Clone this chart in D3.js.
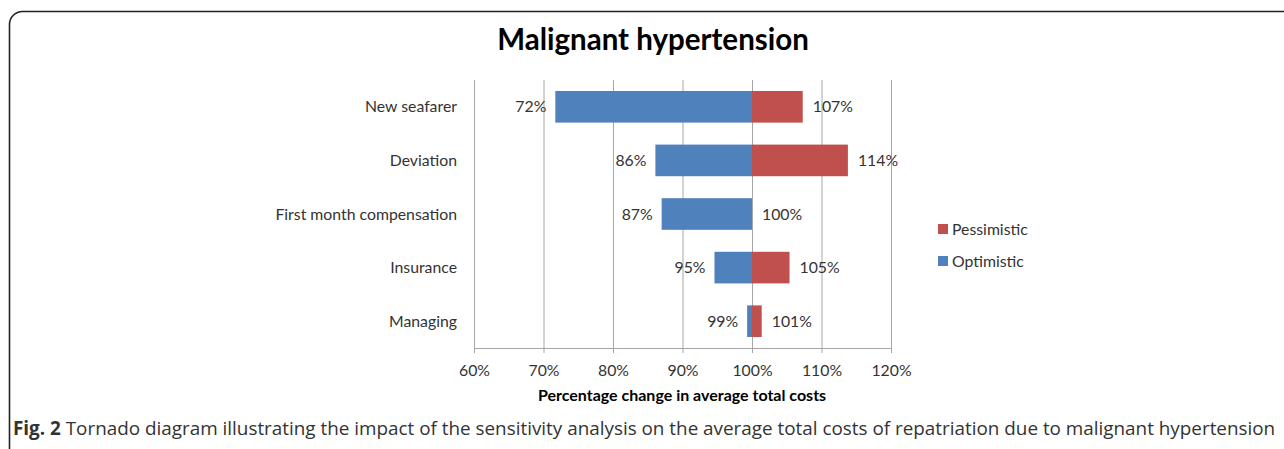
<!DOCTYPE html>
<html>
<head>
<meta charset="utf-8">
<script src="https://cdn.jsdelivr.net/npm/d3@7"></script>
<style>
  body { margin: 0; background: #fff; }
  svg { display: block; }
  .chart-labels text { font-family: Lato, sans-serif; font-size: 15.8px; fill: #333; }
</style>
</head>
<body>
<div id="tornado-chart"></div>
<script>
// Chart data
const categories = ["New seafarer", "Deviation", "First month compensation", "Insurance", "Managing"];
const optimistic = [71.7, 86.1, 87.0, 94.6, 99.3];
const pessimistic = [107.3, 113.8, 100.0, 105.4, 101.4];
const tickValues = [60, 70, 80, 90, 100, 110, 120];
const seriesNames = ["Pessimistic", "Optimistic"];
const baseline = 100;

(function () {
    const width = 1284;
    const height = 449;

    // Plot area (in page pixels)
    const plot = { left: 474, right: 891, top: 80, bottom: 348 };

    const colors = { Pessimistic: "#c0504d", Optimistic: "#4f81bd" };

    const svg = d3.select("#tornado-chart")
        .append("svg")
        .attr("width", width)
        .attr("height", height);

    // Rounded figure frame
    svg.append("rect")
        .attr("x", 9.5)
        .attr("y", 11.5)
        .attr("width", 1320)
        .attr("height", 450)
        .attr("rx", 13)
        .attr("fill", "none")
        .attr("stroke", "#222")
        .attr("stroke-width", 1.6);

    // Title
    svg.append("text")
        .attr("x", 653)
        .attr("y", 50)
        .attr("text-anchor", "middle")
        .style("font-family", "Lato, sans-serif")
        .style("font-weight", "bold")
        .style("font-size", "29.5px")
        .style("fill", "#000")
        .text("Malignant hypertension");

    // Scales
    const xScale = d3.scaleLinear().domain([60, 120]).range([plot.left, plot.right]);
    const yScale = d3.scaleBand()
        .domain(categories)
        .range([plot.top, plot.bottom])
        .paddingInner(0.41)
        .paddingOuter(0.205);

    // Vertical gridlines
    svg.append("g")
        .attr("transform", `translate(0, ${plot.bottom})`)
        .call(d3.axisBottom(xScale)
            .tickValues(tickValues)
            .tickSize(-(plot.bottom - plot.top))
            .tickFormat(""))
        .call((g) => g.select(".domain").remove())
        .call((g) => g.selectAll("line").attr("stroke", "#a6a6a6"));

    // Bars
    const rows = categories.map((c, i) => ({ cat: c, opt: optimistic[i], pes: pessimistic[i] }));

    svg.append("g")
        .selectAll("rect")
        .data(rows)
        .join("rect")
        .attr("x", (d) => xScale(d.opt))
        .attr("y", (d) => yScale(d.cat))
        .attr("width", (d) => xScale(baseline) - xScale(d.opt))
        .attr("height", yScale.bandwidth())
        .attr("fill", colors.Optimistic);

    svg.append("g")
        .selectAll("rect")
        .data(rows)
        .join("rect")
        .attr("x", xScale(baseline))
        .attr("y", (d) => yScale(d.cat))
        .attr("width", (d) => xScale(d.pes) - xScale(baseline))
        .attr("height", yScale.bandwidth())
        .attr("fill", colors.Pessimistic);

    // Data labels
    const fmt = (v) => d3.format(".0f")(v) + "%";
    const labels = svg.append("g").attr("class", "chart-labels");

    labels.selectAll("text.opt")
        .data(rows)
        .join("text")
        .attr("class", "opt")
        .attr("x", (d) => xScale(d.opt) - 9)
        .attr("y", (d) => yScale(d.cat) + yScale.bandwidth() / 2)
        .attr("dy", "0.35em")
        .attr("text-anchor", "end")
        .text((d) => fmt(d.opt));

    labels.selectAll("text.pes")
        .data(rows)
        .join("text")
        .attr("class", "pes")
        .attr("x", (d) => xScale(d.pes) + 10)
        .attr("y", (d) => yScale(d.cat) + yScale.bandwidth() / 2)
        .attr("dy", "0.35em")
        .attr("text-anchor", "start")
        .text((d) => fmt(d.pes));

    // Category labels
    labels.selectAll("text.cat")
        .data(categories)
        .join("text")
        .attr("class", "cat")
        .attr("x", 457)
        .attr("y", (d) => yScale(d) + yScale.bandwidth() / 2)
        .attr("dy", "0.35em")
        .attr("text-anchor", "end")
        .text((d) => d);

    // X axis
    const xAxis = svg.append("g")
        .attr("class", "chart-labels")
        .attr("transform", `translate(0, ${plot.bottom})`)
        .call(d3.axisBottom(xScale)
            .tickValues(tickValues)
            .tickSize(5)
            .tickPadding(12)
            .tickFormat((d) => d + "%"));
    xAxis.select(".domain").attr("stroke", "#a6a6a6");
    xAxis.selectAll("line").attr("stroke", "#a6a6a6");
    xAxis.selectAll("text").attr("dy", "0.71em");

    svg.append("text")
        .attr("x", 682)
        .attr("y", 401)
        .attr("text-anchor", "middle")
        .style("font-family", "Lato, sans-serif")
        .style("font-weight", "bold")
        .style("font-size", "16px")
        .style("fill", "#000")
        .text("Percentage change in average total costs");

    // Legend
    const legend = svg.append("g").attr("class", "chart-labels")
        .selectAll("g")
        .data(seriesNames)
        .join("g")
        .attr("transform", (d, i) => `translate(938, ${224 + i * 32})`);
    legend.append("rect")
        .attr("width", 10)
        .attr("height", 10)
        .attr("fill", (d) => colors[d]);
    legend.append("text")
        .attr("x", 14)
        .attr("y", 5)
        .attr("dy", "0.35em")
        .text((d) => d);

    // Figure caption
    const caption = svg.append("text")
        .attr("x", 13)
        .attr("y", 435)
        .style("font-family", "'Open Sans', sans-serif")
        .style("font-size", "18px")
        .style("fill", "#333");
    caption.append("tspan").style("font-weight", "bold").text("Fig. 2");
    caption.append("tspan").text(" Tornado diagram illustrating the impact of the sensitivity analysis on the average total costs of repatriation due to malignant hypertension");

    // Fit caption to the frame width
    const target = 1263;
    const w = caption.node().getComputedTextLength();
    caption.style("font-size", (18 * target / w).toFixed(2) + "px");
})();
</script>
</body>
</html>
